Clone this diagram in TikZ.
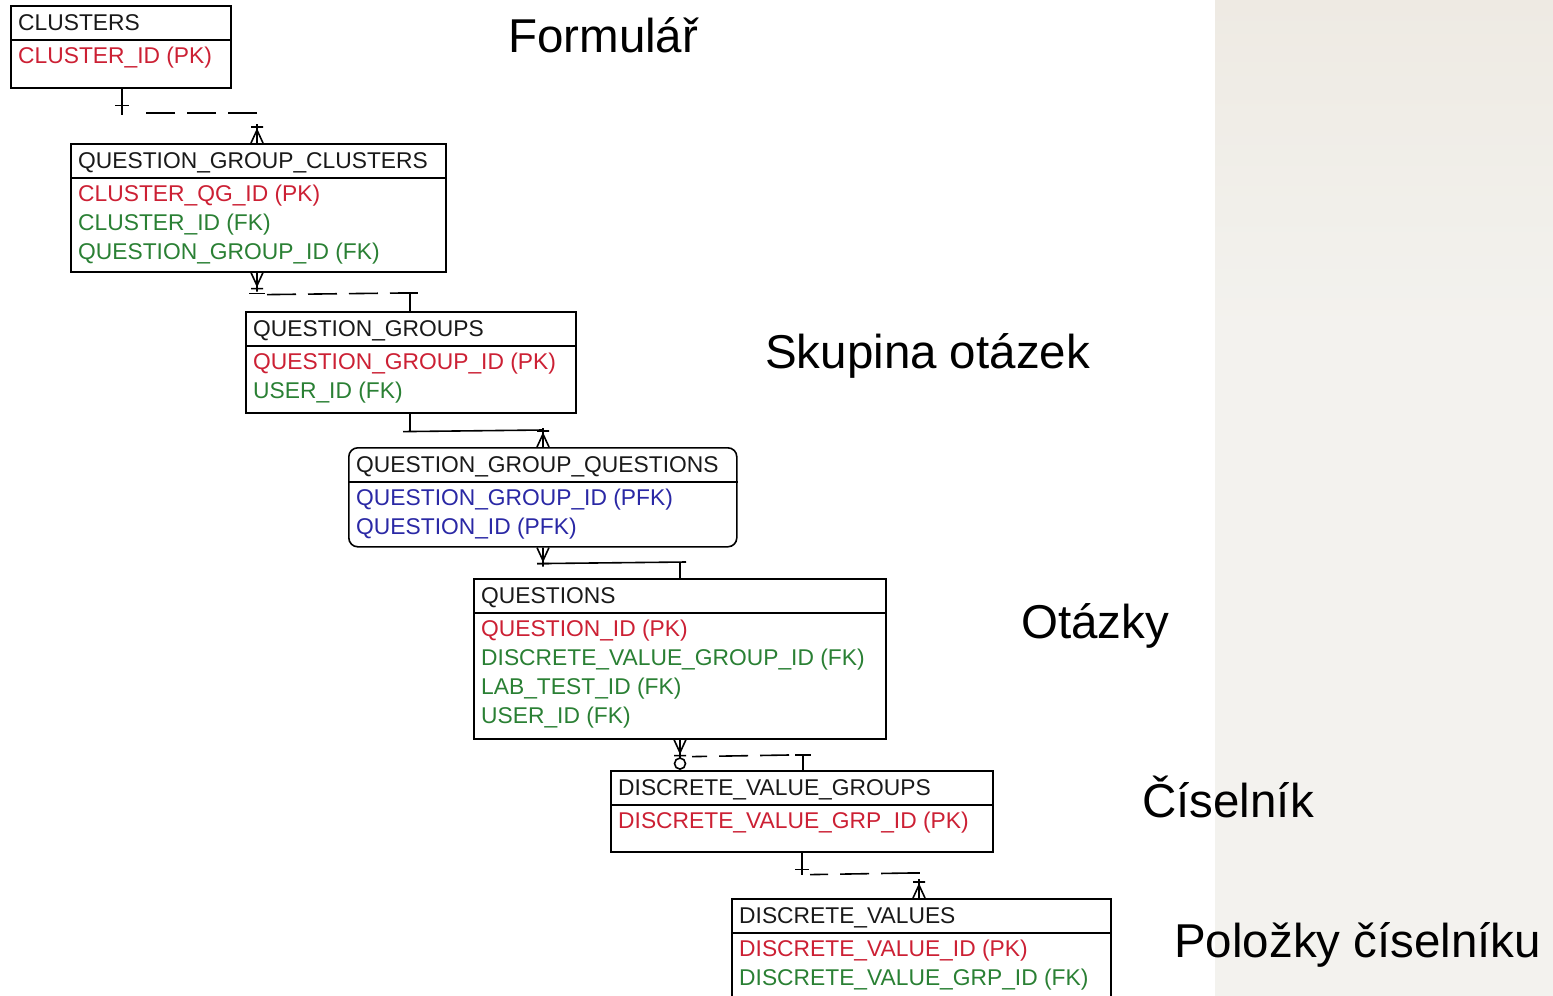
\documentclass[tikz,border=0pt]{standalone}
\usepackage{fontspec}
\setmainfont{Liberation Sans}
\usetikzlibrary{calc}

\definecolor{pkred}{RGB}{204,32,52}
\definecolor{fkgreen}{RGB}{42,128,52}
\definecolor{pfkblue}{RGB}{42,40,165}
\definecolor{headink}{RGB}{25,25,25}
\definecolor{panelA}{RGB}{238,234,227}
\definecolor{panelB}{RGB}{243,242,238}

% entity box: [extra style]{name}{x}{y}{width}{height}{title}
\newcommand\ertable[7][]{%
  \node[tbl,#1,minimum width=#5pt,minimum height=#6pt] (#2) at (#3,#4) {};
  \draw[divider] ($(#2.north west)+(0,35)$) -- ($(#2.north east)+(0,35)$);
  \node[headtext] (#2-h) at ($(#2.north west)+(8,25)$) {#7};
}
% attribute line: {table}{index}{style}{text}
\newcommand\ercol[4]{%
  \node[#3] (#1-r#2) at ($(#1.north west)+(8,{58+29*#2})$) {#4};
}

\begin{document}
\begin{tikzpicture}[x=1pt,y=-1pt,
  tbl/.style={draw=black,line width=1.6pt,fill=white,inner sep=0pt,anchor=north west},
  divider/.style={line width=1.6pt},
  headtext/.style={anchor=base west,inner sep=0pt,
    font=\fontsize{22.8}{26}\selectfont,text=headink},
  pk/.style={headtext,text=pkred},
  fk/.style={headtext,text=fkgreen},
  pfk/.style={headtext,text=pfkblue},
  rel/.style={line width=1.6pt,line cap=butt},
  reldash/.style={rel,dash pattern=on 29pt off 12pt},
  caption/.style={anchor=base west,inner sep=0pt,
    font=\fontsize{47.5}{56}\selectfont,text=black},
  pics/footup/.style={code={
    \draw[rel] (-6,0) -- (0,-13) -- (6,0) (0,0) -- (0,-19) (-6,-16) -- (6,-16);}},
  pics/footdown/.style={code={
    \draw[rel] (-6,0) -- (0,13) -- (6,0) (0,0) -- (0,19) (-6,16) -- (6,16);}},
]
\useasboundingbox (0,0) rectangle (1553,996);
\clip (0,0) rectangle (1553,996);

% side panel: light fill, slightly darker towards the top
\fill[panelB] (1215,0) rectangle (1553,996);
\shade[top color=panelA,bottom color=panelB] (1215,0) rectangle (1553,330);

% entities
\ertable{clusters}{10}{5}{220}{82}{CLUSTERS}
\ercol{clusters}{0}{pk}{CLUSTER\_ID (PK)}

\ertable{qgc}{70}{143}{375}{128}{QUESTION\_GROUP\_CLUSTERS}
\ercol{qgc}{0}{pk}{CLUSTER\_QG\_ID (PK)}
\ercol{qgc}{1}{fk}{CLUSTER\_ID (FK)}
\ercol{qgc}{2}{fk}{QUESTION\_GROUP\_ID (FK)}

\ertable{qg}{245}{311}{330}{101}{QUESTION\_GROUPS}
\ercol{qg}{0}{pk}{QUESTION\_GROUP\_ID (PK)}
\ercol{qg}{1}{fk}{USER\_ID (FK)}

\ertable[rounded corners=9pt]{qgq}{348}{447}{388}{99}{QUESTION\_GROUP\_QUESTIONS}
\ercol{qgq}{0}{pfk}{QUESTION\_GROUP\_ID (PFK)}
\ercol{qgq}{1}{pfk}{QUESTION\_ID (PFK)}

\ertable{q}{473}{578}{412}{160}{QUESTIONS}
\ercol{q}{0}{pk}{QUESTION\_ID (PK)}
\ercol{q}{1}{fk}{DISCRETE\_VALUE\_GROUP\_ID (FK)}
\ercol{q}{2}{fk}{LAB\_TEST\_ID (FK)}
\ercol{q}{3}{fk}{USER\_ID (FK)}

\ertable{dvg}{610}{770}{382}{81}{DISCRETE\_VALUE\_GROUPS}
\ercol{dvg}{0}{pk}{DISCRETE\_VALUE\_GRP\_ID (PK)}

\ertable{dv}{731}{898}{379}{120}{DISCRETE\_VALUES}
\ercol{dv}{0}{pk}{DISCRETE\_VALUE\_ID (PK)}
\ercol{dv}{1}{fk}{DISCRETE\_VALUE\_GRP\_ID (FK)}

% CLUSTERS -> QUESTION_GROUP_CLUSTERS
\coordinate (c1a) at ($(clusters.south west)+(112,0)$);
\coordinate (c1b) at ($(qgc.north west)+(187,0)$);
\draw[rel] (c1a) -- ++(0,26) (c1a) ++(-7,17) -- ++(14,0);
\draw[reldash] (c1a |- 0,113) ++(135,0) -- ++(-121,0);
\pic at (c1b) {footup};

% QUESTION_GROUPS -> QUESTION_GROUP_CLUSTERS
\coordinate (c2a) at ($(qgc.south west)+(187,0)$);
\coordinate (c2b) at ($(qg.north west)+(165,0)$);
\pic at (c2a) {footdown};
\draw[rel] (c2a) ++(-8,21) -- ++(16,0);
\draw[rel] (c2b) -- ++(0,-18) ++(-8,0) -- ++(16,0);
\draw[reldash] ($(c2a)+(10,22)$) -- ($(c2b)+(-8,-18)$);

% QUESTION_GROUPS -> QUESTION_GROUP_QUESTIONS
\coordinate (c3a) at ($(qg.south west)+(165,0)$);
\coordinate (c3b) at ($(qgq.north west)+(195,0)$);
\draw[rel] (c3a) -- ++(0,18) ++(-7,0) -- (c3b |- {0,430}) -- (c3b);
\pic at (c3b) {footup};

% QUESTIONS -> QUESTION_GROUP_QUESTIONS
\coordinate (c4a) at ($(qgq.south west)+(195,0)$);
\coordinate (c4b) at ($(q.north west)+(207,0)$);
\pic at (c4a) {footdown};
\draw[rel] ($(c4a)+(-6,16)$) -- ($(c4b)+(6,-16)$) ($(c4b)+(0,-16)$) -- (c4b);

% DISCRETE_VALUE_GROUPS -> QUESTIONS
\coordinate (c5a) at ($(q.south west)+(207,0)$);
\coordinate (c5b) at ($(dvg.north west)+(193,0)$);
\pic at (c5a) {footdown};
\draw[rel] (c5a) ++(0,24) circle[radius=5.5];
\draw[rel] (c5b) -- ++(0,-15) ++(-8,0) -- ++(16,0);
\draw[reldash] ($(c5b)+(-14,-15)$) -- ($(c5a)+(12,17)$);

% DISCRETE_VALUE_GROUPS -> DISCRETE_VALUES
\coordinate (c6a) at ($(dvg.south west)+(192,0)$);
\coordinate (c6b) at ($(dv.north west)+(188,0)$);
\draw[rel] (c6a) -- ++(0,22) (c6a) ++(-7,17) -- ++(14,0);
\draw[rel] ($(c6b)+(-9,-25)$) -- ++(10,0);
\pic at (c6b) {footup};
\draw[reldash] ($(c6b)+(-9,-25)$) -- ($(c6a)+(8,22)$);

% section captions
\node[caption] (capForm) at (508,52) {Formulář};
\node[caption] (capGroup) at (765,368) {Skupina otázek};
\node[caption] (capQ) at (1021,638) {Otázky};
\node[caption] (capCode) at (1142,817) {Číselník};
\node[caption] (capItems) at (1174,957) {Položky číselníku};
\end{tikzpicture}
\end{document}
